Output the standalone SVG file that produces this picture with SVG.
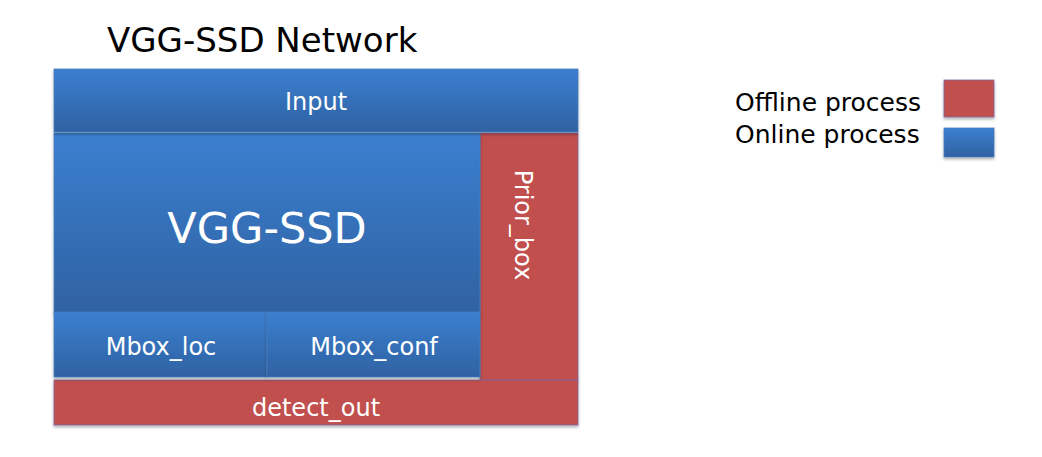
<svg xmlns="http://www.w3.org/2000/svg" width="1042" height="457" viewBox="0 0 1042 457">
<defs>
<linearGradient id="blue" x1="0" y1="0" x2="0" y2="1">
<stop offset="0" stop-color="#3b7fd0"/>
<stop offset="1" stop-color="#2f62a2"/>
</linearGradient>
<filter id="sh" x="-5%" y="-5%" width="110%" height="120%">
<feDropShadow dx="0" dy="2" stdDeviation="1.5" flood-color="#000" flood-opacity="0.3"/>
</filter>
</defs>
<style>
.b{fill:url(#blue);stroke:#4a7ebb;stroke-width:0.8;filter:url(#sh)}
.r{fill:#c0504d;stroke:#8064a2;stroke-width:0.8;filter:url(#sh)}
.t{font-family:"DejaVu Sans",Verdana,sans-serif;fill:#fff;text-anchor:middle}
.k{font-family:"DejaVu Sans",Verdana,sans-serif;fill:#000}
</style>
<text class="k" x="107" y="52" font-size="34">VGG-SSD Network</text>
<g id="prior_box">
<rect class="r" x="480" y="133" width="98" height="247"/>
<text class="t" font-size="24" transform="translate(515,225) rotate(90)">Prior_box</text>
</g>
<g id="detect_out">
<rect class="r" x="54" y="380" width="524" height="45"/>
<text class="t" x="316" y="416" font-size="24">detect_out</text>
</g>
<g id="vgg_ssd">
<rect class="b" x="54" y="133" width="426" height="180"/>
<text class="t" x="267" y="243" font-size="43">VGG-SSD</text>
</g>
<g id="mbox_loc">
<rect class="b" x="54" y="312" width="213" height="65"/>
<text class="t" x="161" y="355" font-size="24">Mbox_loc</text>
</g>
<g id="mbox_conf">
<rect class="b" x="267" y="312" width="213" height="65"/>
<text class="t" x="374" y="355" font-size="24">Mbox_conf</text>
</g>
<g id="input">
<rect class="b" x="54" y="69" width="524" height="63"/>
<text class="t" x="316" y="110" font-size="24">Input</text>
</g>
<g id="legend">
<text class="k" x="735" y="111" font-size="25">Offline process</text>
<text class="k" x="735" y="143" font-size="25">Online process</text>
<rect class="r" x="944" y="80" width="50" height="37"/>
<rect class="b" x="944" y="128" width="50" height="29"/>
</g>
<g id="connectors"/>
</svg>
